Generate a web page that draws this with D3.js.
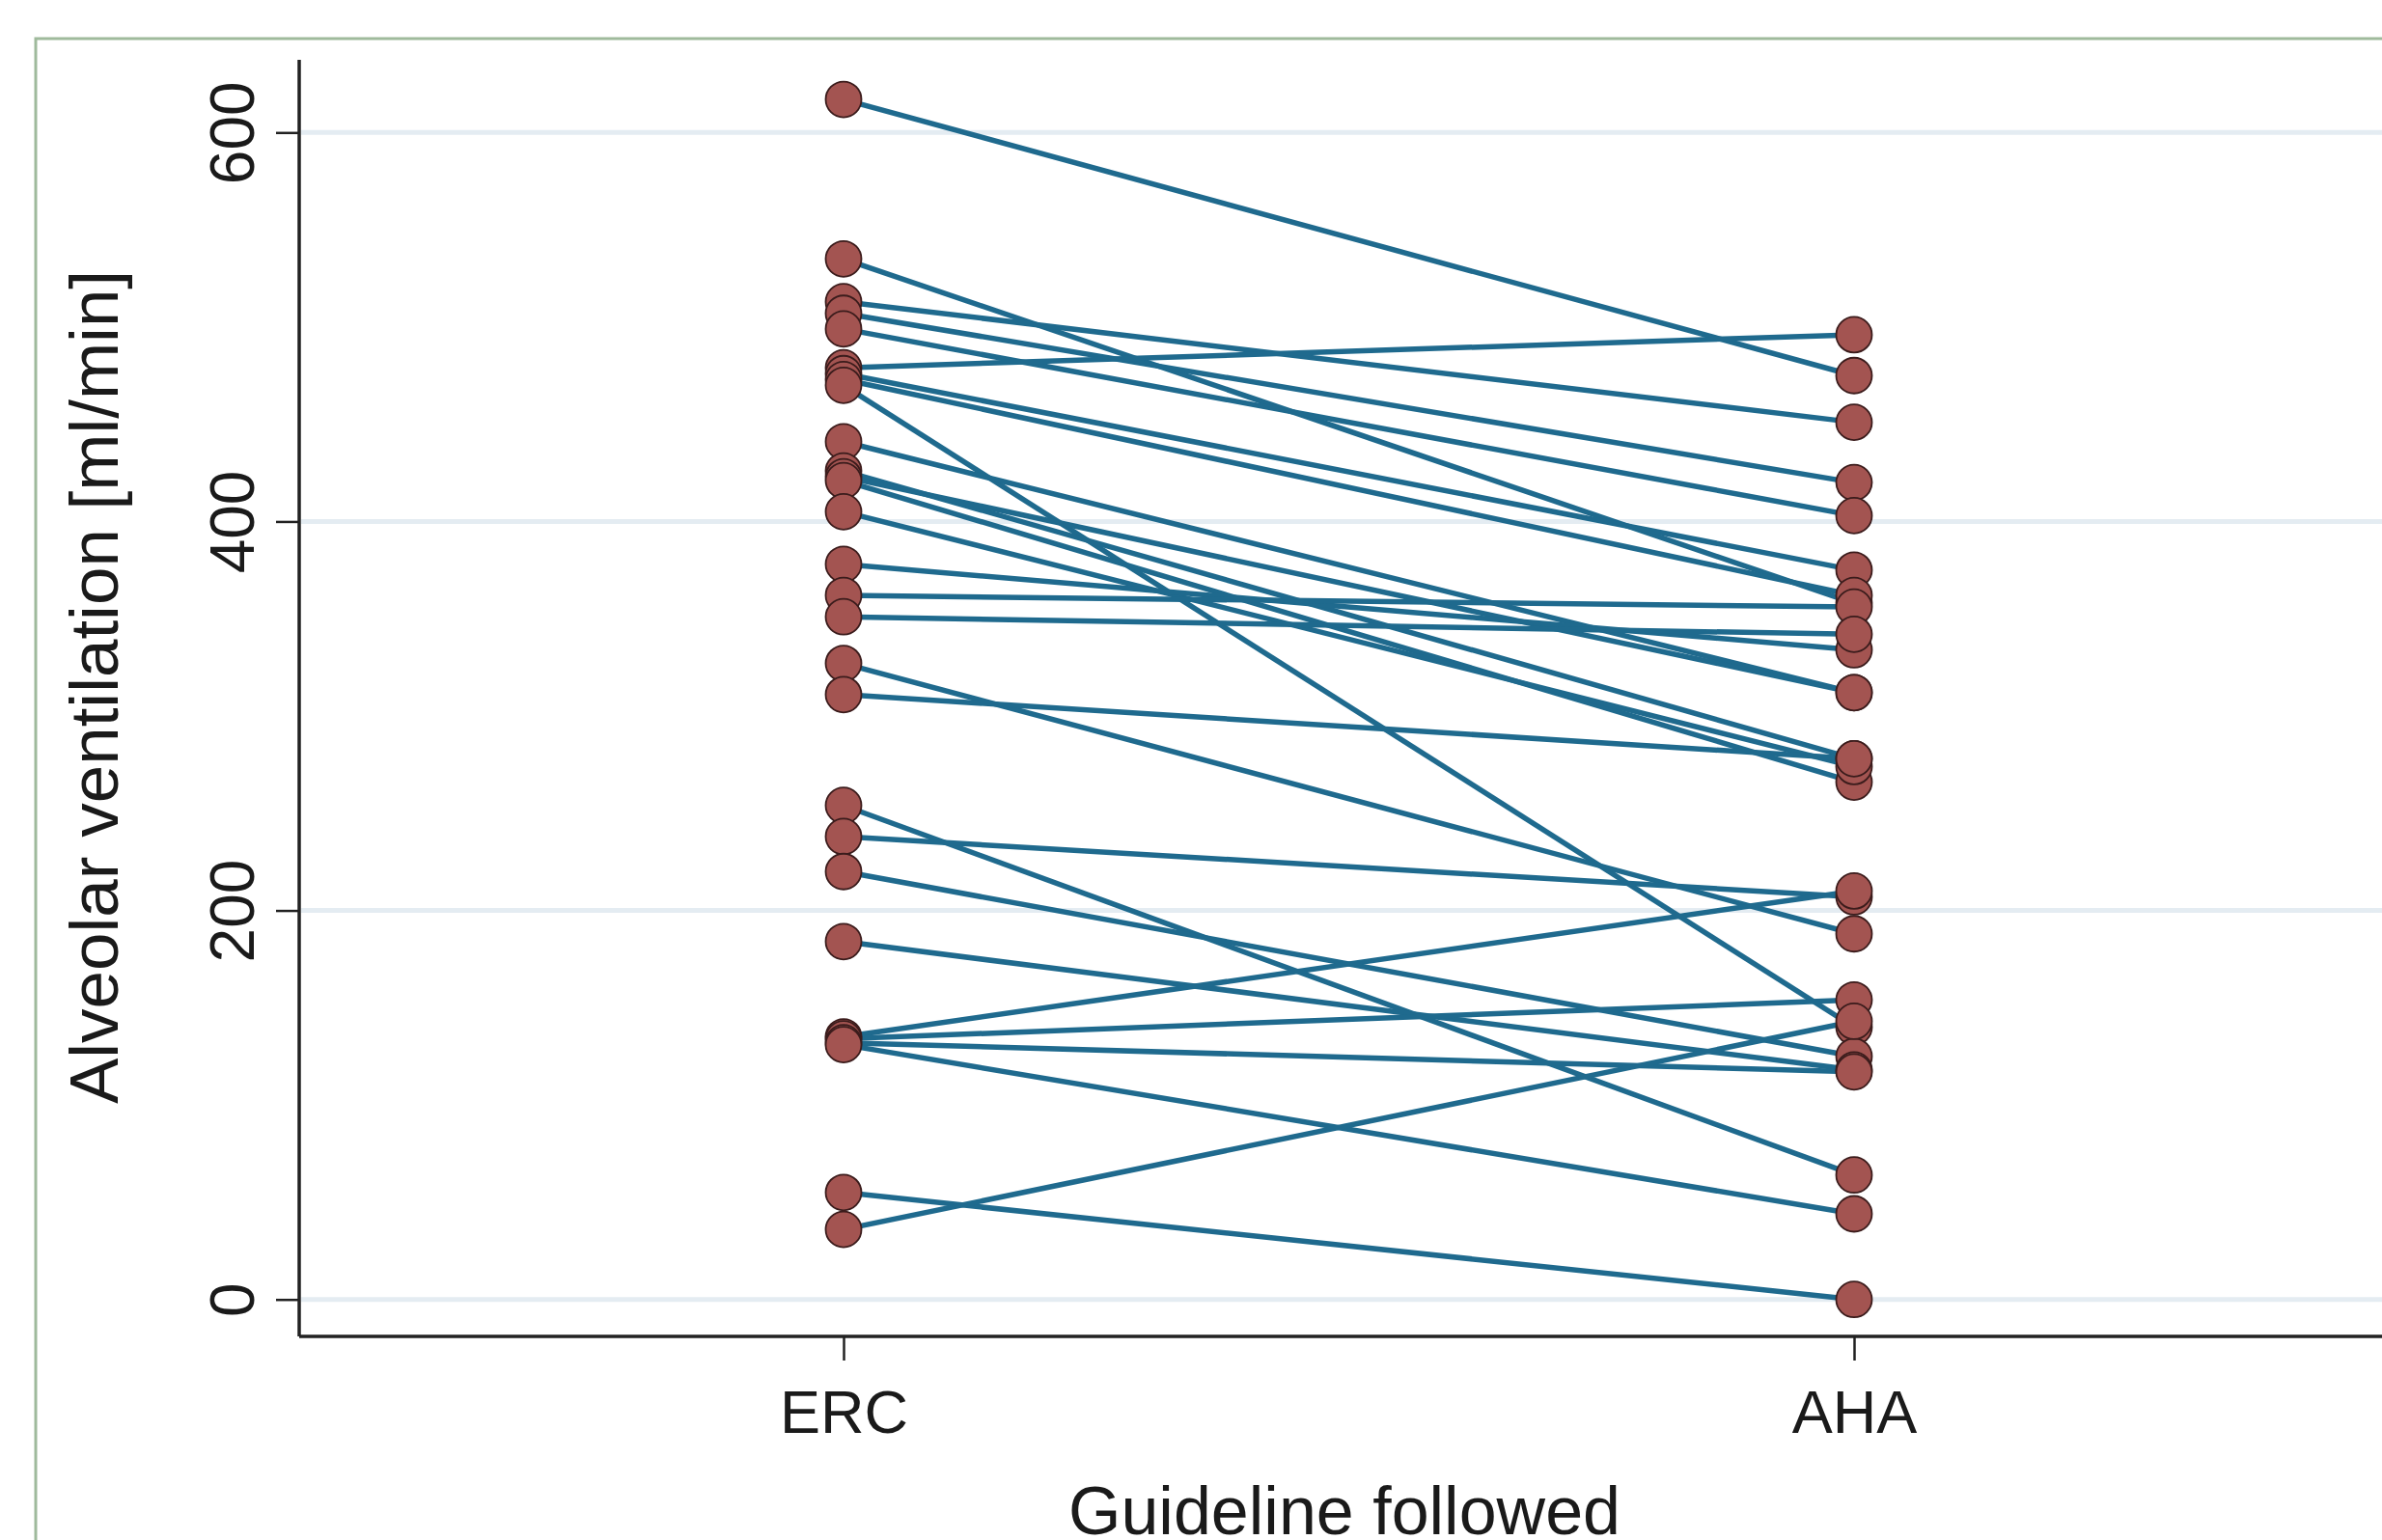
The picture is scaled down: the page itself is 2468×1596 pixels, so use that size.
<!DOCTYPE html>
<html>
<head>
<meta charset="utf-8">
<script src="https://cdn.jsdelivr.net/npm/d3@7"></script>
<style>
  html, body { margin: 0; padding: 0; background: #fff; }
  svg { display: block; }
  text { font-family: "Liberation Sans", Arial, sans-serif; fill: #1a1a1a; }
</style>
</head>
<body>
<svg id="chart"></svg>
<script>
// guideline categories and per-subject alveolar ventilation (ml/min)
var guidelines = ["ERC", "AHA"];
var ercValues = [617, 535, 513, 507, 499, 479, 476, 473, 470, 441, 426, 423, 421, 405, 378, 362, 351, 327, 311, 254, 238, 220, 184, 135, 134, 132, 131, 55, 36];
var ahaValues = [475, 358, 451, 420, 403, 496, 375, 362, 140, 312, 278, 312, 266, 274, 334, 356, 342, 188, 278, 64, 207, 125, 118, 210, 154, 117, 44, 0, 143];
var yTicks = [0, 200, 400, 600];

var settings = {
  width: 2468,
  height: 1596,
  axisX: 310,
  axisY: 1385,
  lineColor: "#1f6a8e",
  markerFill: "#a35451",
  markerStroke: "#3b1c1c",
  gridColor: "#e4ecf2"
};

var pairs = ercValues.map(function(v, i) { return [v, ahaValues[i]]; });

var svg = d3.select("#chart")
  .attr("width", settings.width)
  .attr("height", settings.height);

svg.append("rect")
  .attr("width", settings.width).attr("height", settings.height)
  .attr("fill", "#fff");

// outer green frame
svg.append("rect")
  .attr("x", 37).attr("y", 40)
  .attr("width", 2600).attr("height", 1700)
  .attr("fill", "none")
  .attr("stroke", "#9fba9c")
  .attr("stroke-width", 3);

var xScale = d3.scalePoint()
  .domain(guidelines)
  .range([874, 1921]);

var yScale = d3.scaleLinear()
  .domain([0, 600])
  .range([1346.7, 137.3]);

// gridlines
svg.append("g").selectAll("line")
  .data(yTicks)
  .enter().append("line")
  .attr("x1", settings.axisX + 2)
  .attr("x2", settings.width)
  .attr("y1", function(d) { return yScale(d); })
  .attr("y2", function(d) { return yScale(d); })
  .attr("stroke", settings.gridColor)
  .attr("stroke-width", 5);

// y axis
var yAxis = d3.axisLeft(yScale)
  .tickValues(yTicks)
  .tickSize(24)
  .tickPadding(0);

var gy = svg.append("g")
  .attr("transform", "translate(" + settings.axisX + ",0)")
  .call(yAxis);
gy.select(".domain").remove();
gy.selectAll(".tick line").attr("stroke", "#222").attr("stroke-width", 2.5);
gy.selectAll(".tick text")
  .attr("x", null).attr("dy", null)
  .attr("text-anchor", "middle")
  .attr("transform", "translate(-47,0) rotate(-90)")
  .style("font-size", "64px")
  .style("font-family", "'Liberation Sans', Arial, sans-serif")
  .attr("fill", "#1a1a1a");

svg.append("line")
  .attr("x1", settings.axisX).attr("x2", settings.axisX)
  .attr("y1", 62).attr("y2", settings.axisY)
  .attr("stroke", "#222").attr("stroke-width", 3.5);

// x axis
var xAxis = d3.axisBottom(xScale)
  .tickSize(25)
  .tickPadding(30);

var gx = svg.append("g")
  .attr("transform", "translate(0," + settings.axisY + ")")
  .call(xAxis);
gx.select(".domain").remove();
gx.selectAll(".tick line").attr("stroke", "#222").attr("stroke-width", 2.5);
gx.selectAll(".tick text")
  .style("font-size", "63px")
  .style("font-family", "'Liberation Sans', Arial, sans-serif")
  .attr("fill", "#1a1a1a");

svg.append("line")
  .attr("x1", settings.axisX).attr("x2", settings.width)
  .attr("y1", settings.axisY).attr("y2", settings.axisY)
  .attr("stroke", "#222").attr("stroke-width", 3.5);

// axis titles
svg.append("text")
  .attr("x", 1393).attr("y", 1590)
  .attr("text-anchor", "middle")
  .style("font-size", "70px")
  .text("Guideline followed");

svg.append("text")
  .attr("transform", "translate(122,712) rotate(-90)")
  .attr("text-anchor", "middle")
  .style("font-size", "71px")
  .text("Alveolar ventilation [ml/min]");

// connecting lines per subject
svg.append("g").selectAll("line")
  .data(pairs)
  .enter().append("line")
  .attr("x1", xScale("ERC"))
  .attr("x2", xScale("AHA"))
  .attr("y1", function(d) { return yScale(d[0]); })
  .attr("y2", function(d) { return yScale(d[1]); })
  .attr("stroke", settings.lineColor)
  .attr("stroke-width", 5.5);

// markers
var points = [];
pairs.forEach(function(d) {
  points.push({g: "ERC", v: d[0]});
  points.push({g: "AHA", v: d[1]});
});

svg.append("g").selectAll("circle")
  .data(points)
  .enter().append("circle")
  .attr("cx", function(d) { return xScale(d.g); })
  .attr("cy", function(d) { return yScale(d.v); })
  .attr("r", 18.5)
  .attr("fill", settings.markerFill)
  .attr("stroke", settings.markerStroke)
  .attr("stroke-width", 1.8);
</script>
</body>
</html>
